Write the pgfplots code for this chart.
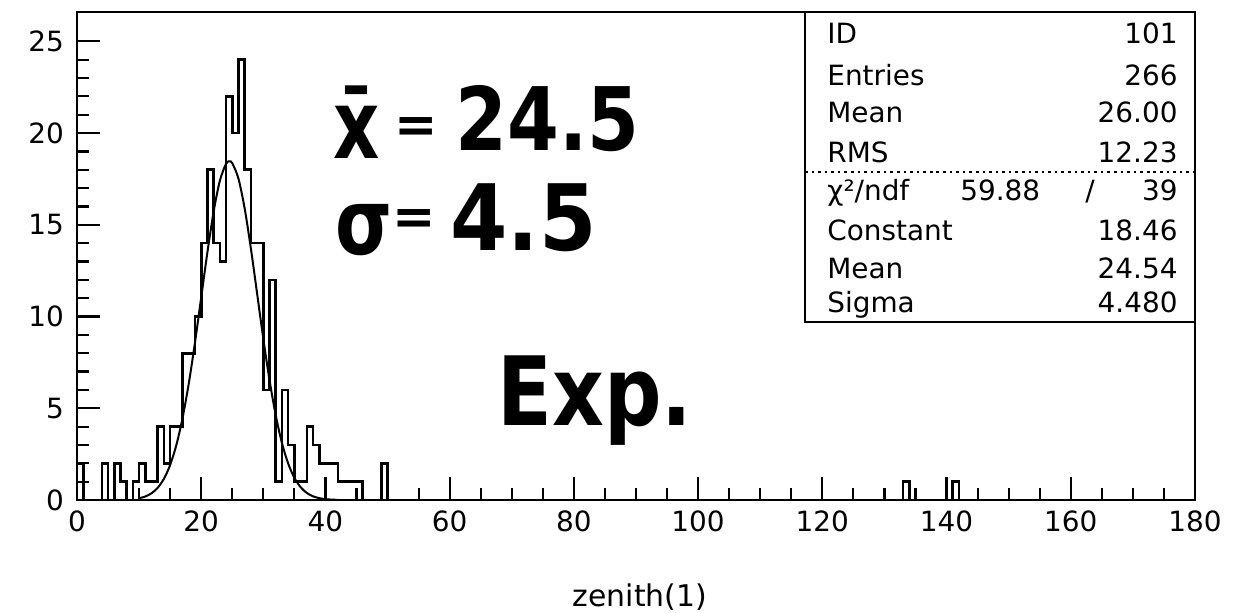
\documentclass[border=0pt]{standalone}
\usepackage{fontspec}
\setmainfont{DejaVu Sans}
\usepackage{pgfplots}
\usepackage{pgfplotstable}
\pgfplotsset{compat=1.18}

% zenith(1): counts per 1-degree bin (left edge, count)
\pgfplotstableread{
x y
0 0
0 2
1 0
4 2
5 0
6 2
7 1
8 0
9 1
10 2
11 1
12 1
13 4
14 2
15 4
16 4
17 8
18 8
19 10
20 14
21 18
22 14
23 13
24 22
25 20
26 24
27 18
28 14
29 14
30 6
31 12
32 1
33 6
34 3
35 1
36 1
37 4
38 3
39 2
40 2
41 2
42 1
43 1
44 1
45 1
46 0
49 2
50 0
133 1
134 0
141 1
142 0
180 0
}\zenith

% Gaussian fit: Constant 18.46, Mean 24.54, Sigma 4.480
\pgfplotstableread{
x f
10 0.095
11 0.192
12 0.367
13 0.669
14 1.159
15 1.913
16 3.000
17 4.478
18 6.360
19 8.593
20 11.05
21 13.51
22 15.72
23 17.40
24 18.33
24.54 18.46
25 18.36
26 17.51
27 15.88
28 13.70
29 11.25
30 8.784
31 6.527
32 4.615
33 3.103
34 1.986
35 1.209
36 0.700
37 0.386
38 0.202
39 0.101
40 0.048
41 0.022
42 0.009
}\gausfit

\begin{document}
\begin{tikzpicture}
\begin{axis}[
  at={(0,0)}, anchor=south west,
  scale only axis, width=559bp, height=244bp,
  xmin=0, xmax=180, ymin=0, ymax=26.6,
  xtick={0,20,...,180}, ytick={0,5,...,25},
  minor x tick num=3, minor y tick num=4,
  tick pos=left, tick align=inside,
  major tick length=11.5bp, minor tick length=6bp,
  tick style={black, line width=1.1pt},
  axis line style={black, line width=1.4pt},
  /pgf/number format/assume math mode=true,
  ticklabel style={font=\fontsize{14}{16}\selectfont},
  xticklabel style={yshift=-2bp},
  yticklabel style={xshift=-3bp},
  xlabel={zenith(1)},
  xlabel style={at={(axis description cs:0.5036,-0.219)}, anchor=base,
    font=\fontsize{15}{17}\selectfont},
]
\addplot[const plot mark left, black, line width=1.3pt] table[x=x, y=y] {\zenith};
\addplot[smooth, black, line width=1pt] table[x=x, y=f] {\gausfit};
\end{axis}

% statistics box and hand-written notes, in page units
\begin{scope}[x=0.5bp, y=-0.5bp, shift={(-77,-500)}]
  \draw[line width=1pt] (805,12) rectangle (1195,322);
  \draw[dotted, line width=1.3pt] (805,172) -- (1195,172);
  \begin{scope}[every node/.style={font=\fontsize{14}{16}\selectfont, inner sep=0pt}]
    \node[anchor=base west] at (827,43)  {ID};
    \node[anchor=base west] at (827,85)  {Entries};
    \node[anchor=base west] at (827,122) {Mean};
    \node[anchor=base west] at (827,162) {RMS};
    \node[anchor=base west] at (827,200) {χ²/ndf};
    \node[anchor=base west] at (827,240) {Constant};
    \node[anchor=base west] at (827,278) {Mean};
    \node[anchor=base west] at (827,312) {Sigma};
    \node[anchor=base east] at (1178,43)  {101};
    \node[anchor=base east] at (1178,85)  {266};
    \node[anchor=base east] at (1178,122) {26.00};
    \node[anchor=base east] at (1178,162) {12.23};
    \node[anchor=base west] at (960,200)  {59.88};
    \node[anchor=base]      at (1090,200) {/};
    \node[anchor=base east] at (1178,200) {39};
    \node[anchor=base east] at (1178,240) {18.46};
    \node[anchor=base east] at (1178,278) {24.54};
    \node[anchor=base east] at (1178,312) {4.480};
  \end{scope}
  \begin{scope}[every node/.style={inner sep=0pt, font=\bfseries}]
    \node[anchor=base west, xscale=0.75, font=\bfseries\fontsize{48}{50}\selectfont] at (333,158) {x̄};
    \node[anchor=center, font=\bfseries\fontsize{26}{28}\selectfont] at (416,130) {=};
    \node[anchor=base west, xscale=0.85, font=\bfseries\fontsize{44}{46}\selectfont] at (455,150) {24.5};
    \node[anchor=base west, xscale=0.8, font=\bfseries\fontsize{46}{48}\selectfont] at (335,254) {σ};
    \node[anchor=center, font=\bfseries\fontsize{26}{28}\selectfont] at (414,222) {=};
    \node[anchor=base west, xscale=0.9, font=\bfseries\fontsize{46}{48}\selectfont] at (450,250) {4.5};
    \node[anchor=base west, xscale=0.84, font=\bfseries\fontsize{48}{50}\selectfont] at (497,425) {Exp.};
  \end{scope}
\end{scope}
\pgfresetboundingbox
\path (-38.5bp,-56.5bp) rectangle (578.5bp,250bp);
\end{tikzpicture}
\end{document}
